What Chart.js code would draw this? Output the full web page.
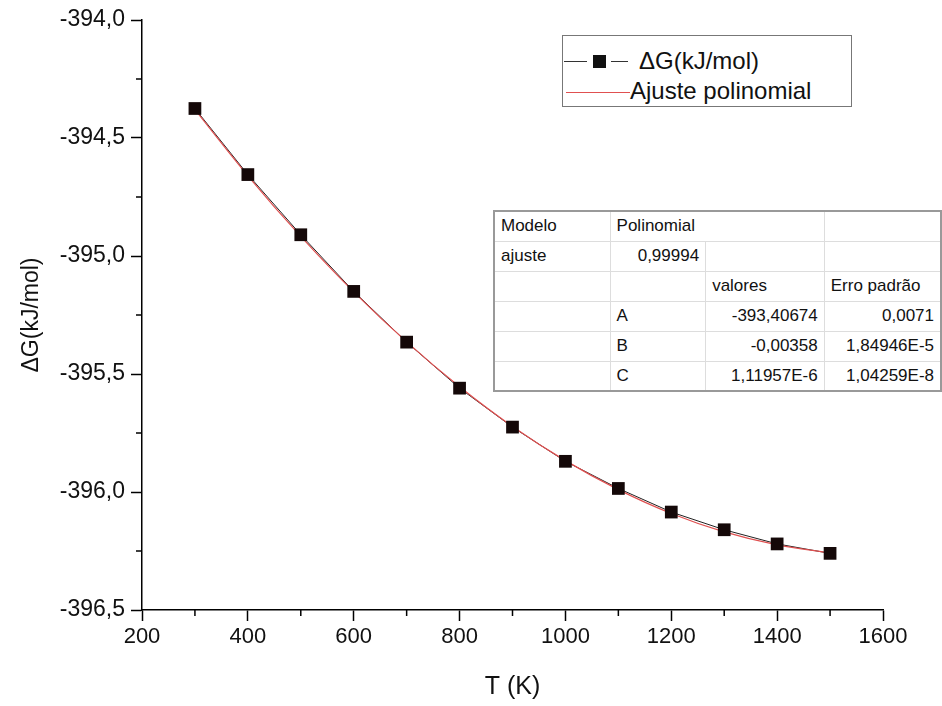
<!DOCTYPE html>
<html>
<head>
<meta charset="utf-8">
<script src="https://cdn.jsdelivr.net/npm/chart.js@4.4.1/dist/chart.umd.min.js"></script>
<style>
  body { margin: 0; background: #fff; }
  #wrap { position: relative; width: 942px; height: 706px; font-family: "Liberation Sans", Arial, sans-serif; }
  #legend { position: absolute; left: 562px; top: 35px; width: 290px; height: 72px; border: 1px solid #777; background: #fff; box-sizing: border-box; }
  .lrow { position: absolute; left: 0; height: 30px; line-height: 30px; font-size: 24px; color: #111; white-space: nowrap; }
  .lline { position: absolute; height: 1px; }
  .lsq { position: absolute; width: 13px; height: 13px; background: #111; }
  #fit { position: absolute; left: 493px; top: 210px; border-collapse: collapse; font-size: 17px; color: #111; background: #fff; border: 2px solid #999; }
  #fit td { height: 30px; padding: 0 6px; border: 1px solid #ddd; box-sizing: border-box; white-space: nowrap; }
  #fit td.r { text-align: right; }
</style>
</head>
<body>
<div id="wrap">
  <canvas id="chart" width="942" height="706"></canvas>
  <div id="legend">
    <div class="lrow" style="top:10px">
      <div class="lline" style="left:1px; top:15px; width:23px; background:#333"></div>
      <div class="lsq" style="left:30px; top:9px"></div>
      <div class="lline" style="left:48px; top:15px; width:17px; background:#333"></div>
      <span style="position:absolute; left:76px">ΔG(kJ/mol)</span>
    </div>
    <div class="lrow" style="top:40px">
      <div class="lline" style="left:3px; top:16px; width:64px; background:#e05050"></div>
      <span style="position:absolute; left:67px">Ajuste polinomial</span>
    </div>
  </div>
  <table id="fit">
    <tr><td style="width:117px">Modelo</td><td colspan="2">Polinomial</td><td style="width:117px"></td></tr>
    <tr><td>ajuste</td><td class="r" style="width:96px">0,99994</td><td style="width:119px"></td><td></td></tr>
    <tr><td></td><td></td><td>valores</td><td>Erro padrão</td></tr>
    <tr><td></td><td>A</td><td class="r">-393,40674</td><td class="r">0,0071</td></tr>
    <tr><td></td><td>B</td><td class="r">-0,00358</td><td class="r">1,84946E-5</td></tr>
    <tr><td></td><td>C</td><td class="r">1,11957E-6</td><td class="r">1,04259E-8</td></tr>
  </table>
</div>
<script>
const temps = [300, 400, 500, 600, 700, 800, 900, 1000, 1100, 1200, 1300, 1400, 1500];
const deltaG = [-394.375, -394.655, -394.91, -395.15, -395.365, -395.56, -395.725, -395.87, -395.985, -396.085, -396.16, -396.22, -396.26];
const ajuste = [-394.380, -394.660, -394.917, -395.152, -395.364, -395.554, -395.722, -395.867, -395.990, -396.091, -396.169, -396.224, -396.258];
const xMinor = [300, 500, 700, 900, 1100, 1300, 1500];
const yMinor = [-394.25, -394.75, -395.25, -395.75, -396.25];

const pts = arr => temps.map((t, i) => ({ x: t, y: arr[i] }));
const font = '"Liberation Sans", Arial, sans-serif';

// minor ticks, Origin style
const minorTicks = {
    id: 'minorTicks',
    afterDraw(chart) {
        const ctx = chart.ctx, xs = chart.scales.x, ys = chart.scales.y;
        ctx.save();
        ctx.strokeStyle = '#000';
        ctx.lineWidth = 1.5;
        ctx.beginPath();
        xMinor.forEach(v => {
            const px = xs.getPixelForValue(v);
            ctx.moveTo(px, ys.bottom); ctx.lineTo(px, ys.bottom + 6);
        });
        yMinor.forEach(v => {
            const py = ys.getPixelForValue(v);
            ctx.moveTo(xs.left, py); ctx.lineTo(xs.left - 6, py);
        });
        ctx.stroke();
        ctx.restore();
    }
};

new Chart(document.getElementById('chart'), {
    type: 'scatter',
    data: {
        datasets: [
            { data: pts(deltaG), showLine: true, borderColor: '#222', borderWidth: 1, pointRadius: 0, order: 3 },
            { data: pts(ajuste), showLine: true, borderColor: '#e05050', borderWidth: 1.2, pointRadius: 0, tension: 0.4, cubicInterpolationMode: 'monotone', order: 2 },
            { data: pts(deltaG), showLine: false, pointStyle: 'rect', pointRadius: 9, backgroundColor: '#140808', borderColor: '#140808', borderWidth: 0, order: 1 }
        ]
    },
    options: {
        responsive: false,
        animation: false,
        devicePixelRatio: 1,
        layout: { padding: { left: 18, top: 20, right: 59, bottom: 4 } },
        plugins: { legend: { display: false }, tooltip: { enabled: false } },
        scales: {
            x: {
                type: 'linear', min: 200, max: 1600,
                ticks: { stepSize: 200, color: '#111', font: { family: font, size: 22 }, padding: 3, maxRotation: 0,
                    callback: v => String(v) },
                grid: { drawOnChartArea: false, tickLength: 11, color: '#000', tickWidth: 1.5 },
                border: { color: '#000', width: 1.5 },
                title: { display: true, text: 'T (K)', color: '#111', font: { family: font, size: 25 }, padding: { top: 0, bottom: 0 } },
                afterFit: s => { s.height = 92; }
            },
            y: {
                type: 'linear', min: -396.5, max: -394,
                ticks: { stepSize: 0.5, color: '#111', font: { family: font, size: 23 }, padding: 6,
                    callback: v => v.toFixed(1).replace('.', ',') },
                grid: { drawOnChartArea: false, tickLength: 11, color: '#000', tickWidth: 1.5 },
                border: { color: '#000', width: 1.5 },
                title: { display: true, text: 'ΔG(kJ/mol)', color: '#111', font: { family: font, size: 23 }, padding: { top: 0, bottom: 0 } },
                afterFit: s => { s.width = 124; }
            }
        }
    },
    plugins: [minorTicks]
});
</script>
</body>
</html>
